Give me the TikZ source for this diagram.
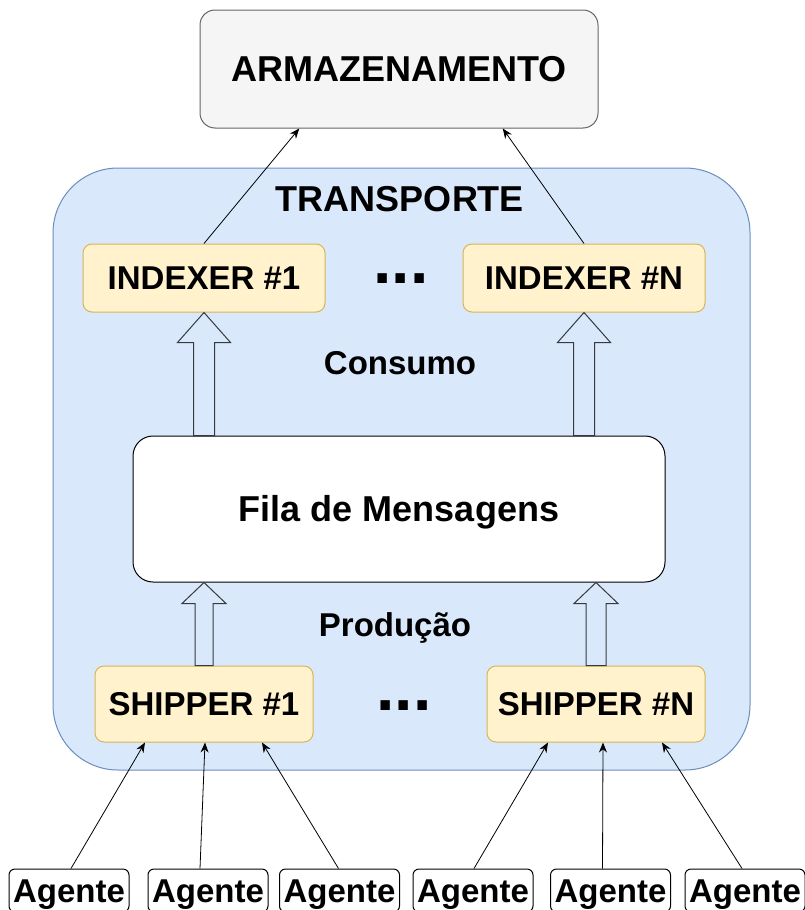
\documentclass[tikz,border=0pt]{standalone}
\usepackage{fontspec}
\setmainfont{Liberation Sans}
\usetikzlibrary{calc,arrows.meta}

\definecolor{storefill}{HTML}{F5F5F5}
\definecolor{storeline}{HTML}{666666}
\definecolor{transfill}{HTML}{DAE8FC}
\definecolor{transline}{HTML}{6C8EBF}
\definecolor{stagefill}{HTML}{FFF2CC}
\definecolor{stageline}{HTML}{D6B656}
\definecolor{hollowline}{HTML}{36393D}

% hollow block arrow: tip, base, shaft half width, head half width, head length
\newcommand\hollowarrow[5]{%
  \draw[hollow] let \p1=(#1), \p2=(#2) in
    (\x1,\y1) -- (\x1+#4pt,\y1-#5pt) -- (\x1+#3pt,\y1-#5pt) -- (\x1+#3pt,\y2)
    -- (\x1-#3pt,\y2) -- (\x1-#3pt,\y1-#5pt) -- (\x1-#4pt,\y1-#5pt) -- cycle;}

\begin{document}
\begin{tikzpicture}[x=1pt,y=-1pt,
  lbl/.style={font=\fontsize{33}{40}\selectfont\bfseries, text height=23.6pt, text depth=0pt, inner sep=0pt},
  biglbl/.style={font=\fontsize{36}{43}\selectfont\bfseries, text height=25.8pt},
  box/.style={lbl, draw, line width=1pt, align=center},
  stage/.style={box, fill=stagefill, draw=stageline, rounded corners=9pt},
  agent/.style={box, draw=black, fill=white, rounded corners=6pt,
    minimum width=120pt, minimum height=43pt,
    font=\fontsize{33}{40}\selectfont\bfseries, text height=23.6pt},
  link/.style={-{Stealth[length=10pt,width=8pt]}, line width=0.8pt},
  hollow/.style={draw=hollowline, line width=1pt, line join=miter},
  dots/.style={font=\fontsize{66}{66}\selectfont\bfseries, inner sep=0pt}]

\useasboundingbox (0,0) rectangle (805,910);
\clip (0,0) rectangle (805,910);

% storage
\node[box, biglbl, fill=storefill, draw=storeline, rounded corners=15pt,
  minimum width=398pt, minimum height=118pt] (store) at (399,69) {ARMAZENAMENTO};

% transport container
\node[draw=transline, fill=transfill, line width=1pt, rounded corners=65pt,
  minimum width=697pt, minimum height=602pt, inner sep=0pt] (trans) at (401.5,469) {};
\node[lbl, biglbl] (transtitle) at (400,199) {TRANSPORTE};

% indexers
\node[stage, minimum width=242pt, minimum height=68pt] (idx1) at (204,278) {INDEXER \#1};
\node[stage, minimum width=242pt, minimum height=68pt] (idxn) at (584,278) {INDEXER \#N};
\node[dots] (idxdots) at (401,279) {...};

\node[lbl] (consumo) at (400,363) {Consumo};

% message queue
\node[box, biglbl, fill=white, draw=black, rounded corners=20pt,
  minimum width=532pt, minimum height=146pt] (fila) at (399,509) {Fila de Mensagens};

\node[lbl] (producao) at (395,625) {Produção};

% shippers
\node[stage, minimum width=218pt, minimum height=76pt] (shp1) at (204,704) {SHIPPER \#1};
\node[stage, minimum width=218pt, minimum height=76pt] (shpn) at (596,704) {SHIPPER \#N};
\node[dots] (shpdots) at (404,706) {...};

% agents
\node[agent] (a1) at (69,890.5) {Agente};
\node[agent] (a2) at (208,890.5) {Agente};
\node[agent] (a3) at (339.5,890.5) {Agente};
\node[agent] (a4) at (473,890.5) {Agente};
\node[agent] (a5) at (610.5,890.5) {Agente};
\node[agent] (a6) at (745,890.5) {Agente};

% consumption arrows
\hollowarrow{idx1.south}{fila.north -| idx1.south}{10.5}{26.5}{30}
\hollowarrow{idxn.south}{fila.north -| idxn.south}{10.5}{26.5}{30}
% production arrows
\hollowarrow{fila.south -| shp1.north}{shp1.north}{9}{22}{21}
\hollowarrow{fila.south -| shpn.north}{shpn.north}{10}{22}{21}

% indexers to storage
\draw[link] (idx1.north) -- ($(store.south west)!0.25!(store.south east)$);
\draw[link] (idxn.north) -- ($(store.south west)!0.76!(store.south east)$);

% agents to shippers
\draw[link] ($(a1.north)+(2,0)$) -- ($(shp1.south)+(-59,0)$);
\draw[link] ($(a2.north)+(-8,0)$) -- ($(shp1.south)+(1,0)$);
\draw[link] ($(a3.north)+(-1,0)$) -- ($(shp1.south)+(58,0)$);
\draw[link] ($(a4.north)+(1,0)$) -- ($(shpn.south)+(-48,0)$);
\draw[link] ($(a5.north)+(-8,0)$) -- ($(shpn.south)+(7,0)$);
\draw[link] ($(a6.north)+(-3,0)$) -- ($(shpn.south)+(66,0)$);
\end{tikzpicture}
\end{document}
